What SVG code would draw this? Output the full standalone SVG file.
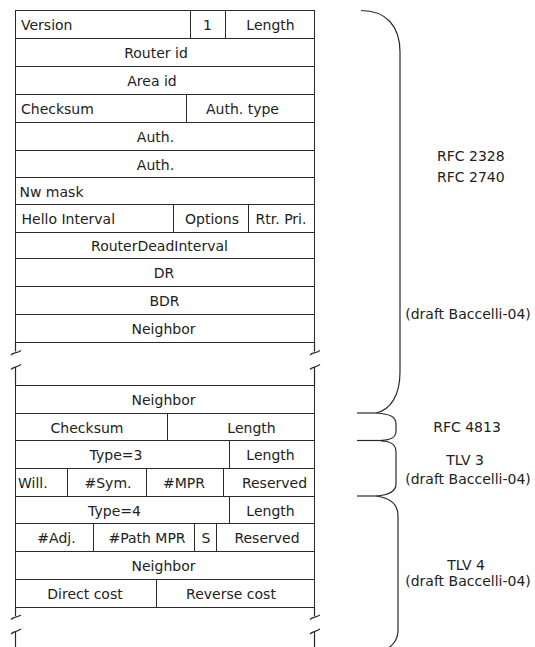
<svg xmlns="http://www.w3.org/2000/svg" width="535" height="647" viewBox="0 0 535 647">
<style>
.c{fill:#fff;stroke:#2a2a2a;stroke-width:1}
.t{font-family:"DejaVu Sans",sans-serif;font-size:14px;fill:#222}
.m{text-anchor:middle}
.l{fill:none;stroke:#2a2a2a;stroke-width:1.2}
</style>
<rect width="535" height="647" fill="#fff"/>
<g id="row-version">
<rect class="c" x="15.5" y="10.5" width="175" height="28"/><rect class="c" x="190.5" y="10.5" width="35" height="28"/><rect class="c" x="225.5" y="10.5" width="89" height="28"/>
<text class="t" x="21" y="30">Version</text><text class="t m" x="207.5" y="30">1</text><text class="t m" x="270.5" y="30">Length</text>
</g>
<g id="row-routerid"><rect class="c" x="15.5" y="38.5" width="299" height="28"/><text class="t m" x="156" y="58">Router id</text></g>
<g id="row-areaid"><rect class="c" x="15.5" y="66.5" width="299" height="28"/><text class="t m" x="152" y="86">Area id</text></g>
<g id="row-checksum">
<rect class="c" x="15.5" y="94.5" width="171" height="28"/><rect class="c" x="186.5" y="94.5" width="128" height="28"/>
<text class="t" x="21" y="114">Checksum</text><text class="t m" x="242.5" y="114">Auth. type</text>
</g>
<g id="row-auth1"><rect class="c" x="15.5" y="122.5" width="299" height="28"/><text class="t m" x="155.5" y="142">Auth.</text></g>
<g id="row-auth2"><rect class="c" x="15.5" y="150.5" width="299" height="27"/><text class="t m" x="155.5" y="169.5">Auth.</text></g>
<g id="row-nwmask"><rect class="c" x="15.5" y="177.5" width="299" height="27"/><text class="t" x="19.5" y="196.5">Nw mask</text></g>
<g id="row-hello">
<rect class="c" x="15.5" y="204.5" width="158" height="28"/><rect class="c" x="173.5" y="204.5" width="75" height="28"/><rect class="c" x="248.5" y="204.5" width="66" height="28"/>
<text class="t" x="21.5" y="224">Hello Interval</text><text class="t m" x="212" y="224">Options</text><text class="t m" x="281" y="224">Rtr. Pri.</text>
</g>
<g id="row-deadint"><rect class="c" x="15.5" y="232.5" width="299" height="26"/><text class="t m" x="159.5" y="251">RouterDeadInterval</text></g>
<g id="row-dr"><rect class="c" x="15.5" y="258.5" width="299" height="28"/><text class="t m" x="164" y="278">DR</text></g>
<g id="row-bdr"><rect class="c" x="15.5" y="286.5" width="299" height="28"/><text class="t m" x="164.5" y="306">BDR</text></g>
<g id="row-neighbor1"><rect class="c" x="15.5" y="314.5" width="299" height="28"/><text class="t m" x="163.5" y="334">Neighbor</text></g>
<g id="row-neighbor2"><rect class="c" x="15.5" y="385.5" width="299" height="28"/><text class="t m" x="163.5" y="405">Neighbor</text></g>
<g id="row-checksum2">
<rect class="c" x="15.5" y="413.5" width="152" height="27"/><rect class="c" x="167.5" y="413.5" width="147" height="27"/>
<text class="t m" x="87" y="432.5">Checksum</text><text class="t m" x="251.5" y="432.5">Length</text>
</g>
<g id="row-type3">
<rect class="c" x="15.5" y="440.5" width="214" height="28"/><rect class="c" x="229.5" y="440.5" width="85" height="28"/>
<text class="t m" x="116" y="460">Type=3</text><text class="t m" x="270.5" y="460">Length</text>
</g>
<g id="row-will">
<rect class="c" x="15.5" y="468.5" width="52" height="28"/><rect class="c" x="67.5" y="468.5" width="79" height="28"/><rect class="c" x="146.5" y="468.5" width="77" height="28"/><rect class="c" x="223.5" y="468.5" width="91" height="28"/>
<text class="t" x="18" y="488">Will.</text><text class="t m" x="108" y="488">#Sym.</text><text class="t m" x="184" y="488">#MPR</text><text class="t m" x="274.5" y="488">Reserved</text>
</g>
<g id="row-type4">
<rect class="c" x="15.5" y="496.5" width="214" height="27"/><rect class="c" x="229.5" y="496.5" width="85" height="27"/>
<text class="t m" x="114.5" y="515.5">Type=4</text><text class="t m" x="270.5" y="515.5">Length</text>
</g>
<g id="row-adj">
<rect class="c" x="15.5" y="523.5" width="78" height="28"/><rect class="c" x="93.5" y="523.5" width="101" height="28"/><rect class="c" x="194.5" y="523.5" width="22" height="28"/><rect class="c" x="216.5" y="523.5" width="98" height="28"/>
<text class="t m" x="56.5" y="543">#Adj.</text><text class="t m" x="147" y="543">#Path MPR</text><text class="t m" x="206" y="543">S</text><text class="t m" x="267" y="543">Reserved</text>
</g>
<g id="row-neighbor3"><rect class="c" x="15.5" y="551.5" width="299" height="28"/><text class="t m" x="163.5" y="571">Neighbor</text></g>
<g id="row-cost">
<rect class="c" x="15.5" y="579.5" width="141" height="28"/><rect class="c" x="156.5" y="579.5" width="158" height="28"/>
<text class="t m" x="85" y="599">Direct cost</text><text class="t m" x="231" y="599">Reverse cost</text>
</g>
<g id="breaks" class="l">
<path d="M15.5,342 V351.5 M11,355 C14,352 16,354 21,350.5"/>
<path d="M11,369.5 C14,366.5 16,368 21,364.5 M15.5,367.5 V385"/>
<path d="M314.5,342 V351.5 M310,355 C313,352 315,354 320,350.5"/>
<path d="M310,369.5 C313,366.5 315,368 320,364.5 M314.5,367.5 V385"/>
<path d="M15.5,607 V616 M11,619.5 C14,616.5 16,618 21,615"/>
<path d="M11,634 C14,631 16,632.5 21,629 M15.5,632 V647"/>
<path d="M314.5,607 V616 M310,619.5 C313,616.5 315,618 320,615"/>
<path d="M310,634 C313,631 315,632.5 320,629 M314.5,632 V647"/>
</g>
<g id="connectors" class="l">
<path d="M361,10.5 C386,10.5 400,26 400,52 L400,372 C400,396 390,410 376,413"/>
<path d="M357,413 H376"/>
<path d="M376,413 C391,414 396,417 396,424 L396,431 C396,437 392,440 381,440.5"/>
<path d="M357,440.5 H384"/>
<path d="M381,441 C392,441 396,445 396,452 L396,484 C396,491 390,495 376,496"/>
<path d="M357,496 H376"/>
<path d="M376,496 C392,498 398,505 398,516 L398,630 C398,640 393,645 385,651"/>
</g>
<g id="labels">
<text class="t" x="437" y="161">RFC 2328</text>
<text class="t" x="437" y="181.5">RFC 2740</text>
<text class="t m" x="468" y="318.5">(draft Baccelli-04)</text>
<text class="t m" x="467" y="431.5">RFC 4813</text>
<text class="t m" x="465" y="465">TLV 3</text>
<text class="t m" x="468" y="483.5">(draft Baccelli-04)</text>
<text class="t m" x="466" y="570">TLV 4</text>
<text class="t m" x="468" y="585.5">(draft Baccelli-04)</text>
</g>
</svg>
